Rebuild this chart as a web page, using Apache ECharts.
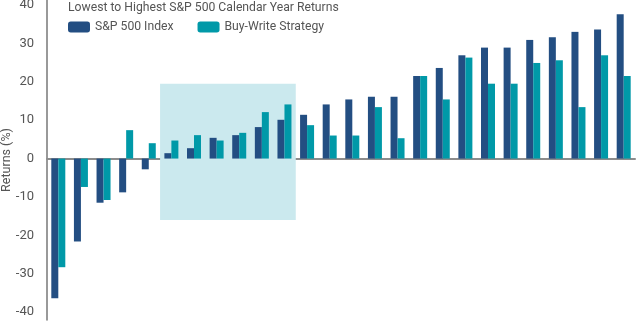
<!DOCTYPE html>
<html>
<head>
<meta charset="utf-8">
<script src="https://cdn.jsdelivr.net/npm/echarts@6/dist/echarts.min.js"></script>
<style>
  html, body { margin: 0; padding: 0; background: #fff; }
  #chart { width: 639px; height: 323px; }
</style>
</head>
<body>
<div id="chart"></div>
<script>
// years sorted lowest to highest S&P 500 return
const years = Array.from({ length: 26 }, (_, i) => 'Y' + (i + 1));
const spIndex = [-36.4, -21.6, -11.5, -8.8, -2.8, 1.4, 2.7, 5.4, 6.1, 8.2, 10.1, 11.4, 14.1, 15.4, 16.1, 16.1, 21.5, 23.6, 26.9, 28.9, 28.9, 30.9, 31.6, 33.0, 33.6, 37.6];
const buyWrite = [-28.3, -7.4, -10.8, 7.4, 4.0, 4.7, 6.1, 4.7, 6.7, 12.1, 14.1, 8.7, 6.0, 6.0, 13.4, 5.3, 21.5, 15.4, 26.3, 19.5, 19.5, 24.9, 25.6, 13.4, 26.9, 21.5];
const yTicks = [-40, -30, -20, -10, 0, 10, 20, 30, 40];
// shaded box: from 6th to 11th year, 19.5 down to -16
const boxRange = [5, 11, 19.5, -16];

const NAVY = '#234e82';
const TEAL = '#0099a8';
const FONT = 'Roboto';

var chart = echarts.init(document.getElementById('chart'));
chart.setOption({
  animation: false,
  textStyle: { fontFamily: FONT },
  title: {
    text: 'Lowest to Highest S&P 500 Calendar Year Returns',
    left: 63, top: -3,
    textStyle: { fontSize: 12.2, fontWeight: 'normal', color: '#555', fontFamily: FONT }
  },
  legend: {
    left: 63, top: 16,
    itemWidth: 22, itemHeight: 11, itemGap: 24,
    textStyle: { fontSize: 12.2, color: '#555', fontFamily: FONT },
    data: ['S&P 500 Index', 'Buy-Write Strategy']
  },
  // y axis title, rotated, sits at the far left
  graphic: [{
    type: 'text',
    x: 7, y: 160,
    rotation: Math.PI / 2,
    style: {
      text: 'Returns (%)',
      fill: '#555',
      font: '12.5px Roboto',
      align: 'center',
      verticalAlign: 'middle'
    }
  }],
  grid: { left: 47, right: 4, top: 0, bottom: 3, outerBoundsMode: 'none' },
  xAxis: [
    {
      type: 'category',
      data: years,
      axisLine: { onZero: true, lineStyle: { color: '#8c8c8c', width: 2 } },
      axisTick: { show: false },
      axisLabel: { show: false }
    },
    { type: 'value', min: 0, max: 26, show: false }
  ],
  yAxis: {
    type: 'value',
    min: -42.05, max: 41.3,
    offset: 4,
    axisLine: { show: true, lineStyle: { color: '#777', width: 1.5 } },
    axisTick: { show: false },
    splitLine: { show: false },
    axisLabel: {
      customValues: yTicks,
      fontSize: 13, color: '#555', margin: 9, fontFamily: FONT
    }
  },
  series: [
    {
      name: 'box', type: 'line', xAxisIndex: 1, data: [],
      markArea: {
        silent: true,
        itemStyle: { color: '#cbe9ee' },
        data: [[{ coord: [boxRange[0], boxRange[2]] }, { coord: [boxRange[1], boxRange[3]] }]]
      }
    },
    {
      name: 'S&P 500 Index', type: 'bar', data: spIndex,
      barWidth: 7, barGap: '0%',
      itemStyle: { color: NAVY }
    },
    {
      name: 'Buy-Write Strategy', type: 'bar', data: buyWrite,
      barWidth: 7, barGap: '0%',
      itemStyle: { color: TEAL }
    }
  ]
});
</script>
</body>
</html>
